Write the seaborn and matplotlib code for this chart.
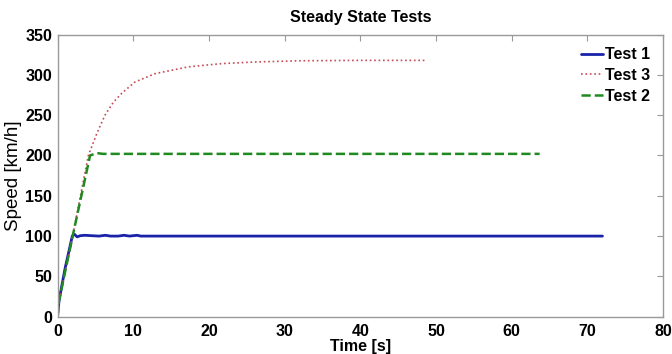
import numpy as np
import pandas as pd
import matplotlib
matplotlib.use("Agg")
import matplotlib.pyplot as plt
import seaborn as sns

# ----------------------------------
# Data
# ----------------------------------

t1 = [0, 0.2, 1.0, 1.95, 2.2, 2.6, 3.0, 3.6, 4.5, 5.5, 6.3, 7.0, 8.0, 8.8, 9.5, 10.5, 11.0, 20, 40, 60, 72]
v1 = [0, 20, 60, 100, 102.5, 99, 100.5, 101, 100.5, 100, 101, 100, 100, 101, 100, 101, 100, 100, 100, 100, 100]

t3 = [0, 0.2, 2.0, 4.07, 5.18, 6.27, 7.37, 8.47, 10.2, 12.9, 17.3, 21.7, 26.1, 32, 40, 48.8]
v3 = [0, 20, 100, 200, 227, 250, 266, 277, 291, 301.6, 310, 314, 316, 317.5, 318, 318]

t2 = [0, 0.2, 2.0, 4.3, 5.2, 6.0, 10, 30, 50, 63.7]
v2 = [0, 20, 100, 200, 203, 202, 202, 202, 202, 202]

series = ["Test 1", "Test 3", "Test 2"]
colors = {"Test 1": "#1a22a8", "Test 3": "#c84a55", "Test 2": "#1f8a1f"}

df = pd.concat([
    pd.DataFrame({"Time": t1, "Speed": v1, "Test": "Test 1"}),
    pd.DataFrame({"Time": t3, "Speed": v3, "Test": "Test 3"}),
    pd.DataFrame({"Time": t2, "Speed": v2, "Test": "Test 2"}),
])

# ----------------------------------
# Plot
# ----------------------------------

sns.set_style("white")
plt.rcParams["font.family"] = ["Liberation Sans", "DejaVu Sans"]
plt.rcParams["text.color"] = "black"
plt.rcParams["axes.labelcolor"] = "black"
plt.rcParams["xtick.labelcolor"] = "black"
plt.rcParams["ytick.labelcolor"] = "black"

fig = plt.figure(figsize=(6.72, 3.54), dpi=100)
ax = fig.add_axes([0.0856, 0.1054, 0.9010, 0.7969])

styles = {"Test 1": "-", "Test 3": ":", "Test 2": "--"}
widths = {"Test 1": 2.0, "Test 3": 1.2, "Test 2": 1.8}

for name in series:
    sns.lineplot(
        data=df[df["Test"] == name],
        x="Time",
        y="Speed",
        color=colors[name],
        linestyle=styles[name],
        linewidth=widths[name],
        label=name,
        sort=False,
        ax=ax
    )

ax.set_xlim(0, 80)
ax.set_ylim(0, 350)
ax.set_xticks(range(0, 81, 10))
ax.set_yticks(range(0, 351, 50))

ax.set_title("Steady State Tests", fontsize=11.5, fontweight="bold", pad=9,
             color="black")
ax.set_xlabel("Time [s]", fontsize=11.5, fontweight="bold", labelpad=0,
              color="black")
ax.set_ylabel("Speed [km/h]", fontsize=13.5, fontweight="normal", labelpad=2,
              color="black")

for lab in ax.get_xticklabels() + ax.get_yticklabels():
    lab.set_fontweight("bold")
ax.tick_params(axis="both", labelsize=11.5, direction="in", length=4,
               color="#999999", labelcolor="black", top=True, right=True)
ax.tick_params(axis="x", pad=5)
ax.tick_params(axis="y", pad=4)

for sp in ax.spines.values():
    sp.set_visible(True)
    sp.set_color("#999999")
    sp.set_linewidth(1.0)

leg = ax.legend(
    loc="upper right",
    frameon=False,
    handlelength=1.4,
    handletextpad=0.1,
    labelspacing=0.35,
    borderaxespad=0.4,
    prop={"weight": "bold", "size": 11.5}
)
for txt in leg.get_texts():
    txt.set_color("black")

fig.savefig("out.png", dpi=100)
plt.close(fig)
